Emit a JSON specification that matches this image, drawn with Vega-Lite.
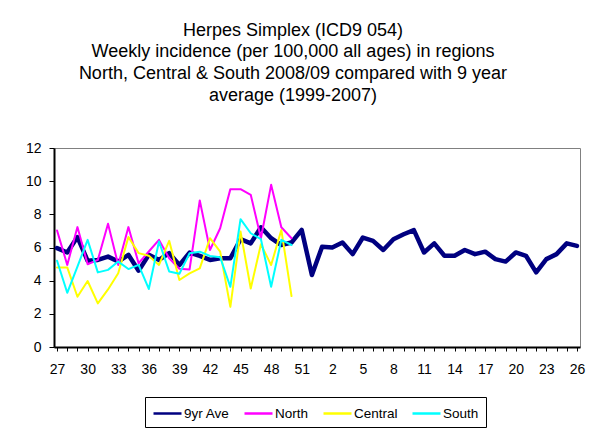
{
  "$schema": "https://vega.github.io/schema/vega-lite/v6.json",
  "width": 526,
  "height": 199,
  "autosize": {"type": "none"},
  "padding": {"left": 54, "top": 148, "right": 9, "bottom": 83},
  "background": "white",
  "config": {
    "font": "Liberation Sans",
    "view": {"stroke": "#808080", "strokeWidth": 1}
  },
  "title": {
    "text": [
      "Herpes Simplex (ICD9 054)",
      "Weekly incidence (per 100,000 all ages) in regions",
      "North, Central & South 2008/09 compared with 9 year",
      "average (1999-2007)"
    ],
    "fontSize": 18,
    "fontWeight": "normal",
    "lineHeight": 21.8,
    "anchor": "middle",
    "dx": -24,
    "offset": 36,
    "color": "black"
  },
  "data": {
    "values": [
      {"week": 27, "9yr Ave": 5.96, "North": 7.03, "Central": 4.8, "South": 5.2},
      {"week": 28, "9yr Ave": 5.7, "North": 4.95, "Central": 4.8, "South": 3.27},
      {"week": 29, "9yr Ave": 6.63, "North": 7.23, "Central": 3.03, "South": 4.85},
      {"week": 30, "9yr Ave": 5.2, "North": 4.99, "Central": 3.98, "South": 6.46},
      {"week": 31, "9yr Ave": 5.25, "North": 5.25, "Central": 2.63, "South": 4.5},
      {"week": 32, "9yr Ave": 5.45, "North": 7.43, "Central": 3.47, "South": 4.65},
      {"week": 33, "9yr Ave": 5.15, "North": 4.95, "Central": 4.45, "South": 5.15},
      {"week": 34, "9yr Ave": 5.56, "North": 7.23, "Central": 6.63, "South": 4.7},
      {"week": 35, "9yr Ave": 4.6, "North": 5.05, "Central": 5.66, "South": 4.95},
      {"week": 36, "9yr Ave": 5.56, "North": 5.76, "Central": 5.5, "South": 3.5},
      {"week": 37, "9yr Ave": 5.25, "North": 6.46, "Central": 4.95, "South": 6.36},
      {"week": 38, "9yr Ave": 5.66, "North": 5.35, "Central": 6.4, "South": 4.55},
      {"week": 39, "9yr Ave": 4.94, "North": 4.72, "Central": 4.04, "South": 4.42},
      {"week": 40, "9yr Ave": 5.69, "North": 4.68, "Central": 4.44, "South": 5.65},
      {"week": 41, "9yr Ave": 5.49, "North": 8.84, "Central": 4.74, "South": 5.75},
      {"week": 42, "9yr Ave": 5.25, "North": 5.85, "Central": 6.56, "South": 5.49},
      {"week": 43, "9yr Ave": 5.35, "North": 7.16, "Central": 5.75, "South": 5.41},
      {"week": 44, "9yr Ave": 5.35, "North": 9.52, "Central": 2.42, "South": 3.63},
      {"week": 45, "9yr Ave": 6.5, "North": 9.52, "Central": 6.96, "South": 7.71},
      {"week": 46, "9yr Ave": 6.25, "North": 9.18, "Central": 3.53, "South": 6.86},
      {"week": 47, "9yr Ave": 7.22, "North": 6.56, "Central": 6.2, "South": 6.5},
      {"week": 48, "9yr Ave": 6.56, "North": 9.78, "Central": 4.94, "South": 3.63},
      {"week": 49, "9yr Ave": 6.15, "North": 7.22, "Central": 7.06, "South": 6.46},
      {"week": 50, "9yr Ave": 6.3, "North": 6.56, "Central": 3.07, "South": 6.15},
      {"week": 51, "9yr Ave": 7.06},
      {"week": 52, "9yr Ave": 4.34},
      {"week": 1, "9yr Ave": 6.05},
      {"week": 2, "9yr Ave": 6.0},
      {"week": 3, "9yr Ave": 6.3},
      {"week": 4, "9yr Ave": 5.6},
      {"week": 5, "9yr Ave": 6.6},
      {"week": 6, "9yr Ave": 6.4},
      {"week": 7, "9yr Ave": 5.85},
      {"week": 8, "9yr Ave": 6.5},
      {"week": 9, "9yr Ave": 6.8},
      {"week": 10, "9yr Ave": 7.05},
      {"week": 11, "9yr Ave": 5.7},
      {"week": 12, "9yr Ave": 6.25},
      {"week": 13, "9yr Ave": 5.5},
      {"week": 14, "9yr Ave": 5.5},
      {"week": 15, "9yr Ave": 5.85},
      {"week": 16, "9yr Ave": 5.6},
      {"week": 17, "9yr Ave": 5.75},
      {"week": 18, "9yr Ave": 5.3},
      {"week": 19, "9yr Ave": 5.15},
      {"week": 20, "9yr Ave": 5.7},
      {"week": 21, "9yr Ave": 5.5},
      {"week": 22, "9yr Ave": 4.5},
      {"week": 23, "9yr Ave": 5.3},
      {"week": 24, "9yr Ave": 5.6},
      {"week": 25, "9yr Ave": 6.25},
      {"week": 26, "9yr Ave": 6.1}
    ]
  },
  "transform": [
    {"fold": ["9yr Ave", "North", "Central", "South"], "as": ["series", "value"]},
    {"filter": "isValid(datum.value)"}
  ],
  "mark": {"type": "line", "strokeJoin": "round", "strokeCap": "round"},
  "encoding": {
    "x": {
      "field": "week",
      "type": "ordinal",
      "scale": {
        "domain": [27,28,29,30,31,32,33,34,35,36,37,38,39,40,41,42,43,44,45,46,47,48,49,50,51,52,1,2,3,4,5,6,7,8,9,10,11,12,13,14,15,16,17,18,19,20,21,22,23,24,25,26],
        "padding": 0.3
      },
      "axis": {
        "title": null,
        "labelAngle": 0,
        "labelExpr": "(toNumber(datum.value) >= 27 ? toNumber(datum.value) - 27 : toNumber(datum.value) + 25) % 3 == 0 ? datum.label : ''",
        "domainColor": "black",
        "domainWidth": 2,
        "tickColor": "black",
        "tickSize": 4,
        "labelFontSize": 14,
        "labelColor": "black",
        "labelPadding": 11,
        "grid": false
      }
    },
    "y": {
      "field": "value",
      "type": "quantitative",
      "scale": {"domain": [0, 12], "nice": false},
      "axis": {
        "title": null,
        "values": [0, 2, 4, 6, 8, 10, 12],
        "grid": false,
        "domainColor": "black",
        "domainWidth": 2,
        "tickColor": "black",
        "tickSize": 5,
        "labelFontSize": 14,
        "labelColor": "black",
        "labelPadding": 8
      }
    },
    "color": {
      "field": "series",
      "type": "nominal",
      "scale": {
        "domain": ["9yr Ave", "North", "Central", "South"],
        "range": ["#000080", "#FF00FF", "#FFFF00", "#00FFFF"]
      },
      "legend": {
        "orient": "none",
        "legendX": 91,
        "legendY": 249,
        "direction": "horizontal",
        "title": null,
        "symbolType": "M0,0H3.5",
        "symbolSize": 256,
        "symbolStrokeWidth": 2.5,
        "symbolOffset": -8,
        "labelFontSize": 13.5,
        "labelColor": "black",
        "labelOffset": 21,
        "columnPadding": 9,
        "strokeColor": "black",
        "fillColor": "white",
        "padding": 7
      }
    },
    "strokeWidth": {
      "condition": {"test": "datum.series === '9yr Ave'", "value": 4.5},
      "value": 2
    }
  }
}
